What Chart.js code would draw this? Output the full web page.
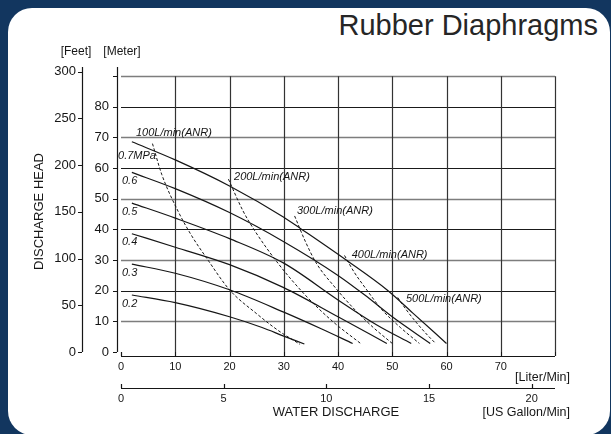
<!DOCTYPE html>
<html>
<head>
<meta charset="utf-8">
<script src="https://cdn.jsdelivr.net/npm/chart.js@4.4.1/dist/chart.umd.min.js"></script>
<style>
  html, body { margin: 0; padding: 0; }
  body { width: 611px; height: 434px; overflow: hidden; position: relative;
         background: #12365f; font-family: "Liberation Sans", Arial, sans-serif; }
  #panel { position: absolute; left: 8px; top: 8px; width: 602px; height: 427px;
           background: #fff; border-radius: 24px; }
  #titulo { position: absolute; right: 13px; top: 11px; font-size: 29px; line-height: 29px;
            color: #262626; white-space: nowrap; }
  #grafico { position: absolute; left: 0; top: 0; }
</style>
</head>
<body>
<div id="panel"></div>
<div id="titulo">Rubber Diaphragms</div>
<canvas id="grafico" width="611" height="434"></canvas>
<script>
// Ticks de los ejes
const flowTicks = [0, 10, 20, 30, 40, 50, 60, 70, 80];
const flowTickLabels = ['0', '10', '20', '30', '40', '50', '60', '70', ''];
const gallonTicks = [0, 5, 10, 15, 20];
const meterTicks = [0, 10, 20, 30, 40, 50, 60, 70, 80, 90];
const meterTickLabels = ['0', '10', '20', '30', '40', '50', '60', '70', '80', ''];
const feetTicks = [0, 50, 100, 150, 200, 250, 300];
const gridFlow = [10, 20, 30, 40, 50, 60, 70, 80];
const gridHead = [10, 20, 30, 40, 50, 60, 70, 80, 90];

const LITROS_POR_GALON = 3.785;
const PIES_POR_METRO = 3.2808;

// Curvas de presion (L/min, m)
const p07Flow = [2, 10, 20, 30, 33, 41.5, 49, 53.8, 60];
const p07Head = [68.6, 62.7, 54.2, 44, 40.4, 30, 20.3, 12.7, 2.8];
const p06Flow = [2, 10, 20, 30, 40, 45, 50, 57];
const p06Head = [58.6, 53.3, 45.5, 36, 25, 18.5, 11.5, 2.8];
const p05Flow = [2, 10, 20, 30, 40, 47, 53.5];
const p05Head = [48.6, 43.7, 37, 29, 17, 9, 2.8];
const p04Flow = [2, 10, 20, 30, 40, 49];
const p04Head = [38.6, 34.2, 28.5, 21, 11.5, 2.8];
const p03Flow = [2, 10, 20, 30, 37, 42.7];
const p03Head = [28.7, 25.7, 20.3, 13, 7.5, 2.8];
const p02Flow = [2, 10, 20, 26, 30, 33.8];
const p02Head = [18.6, 16.1, 11.5, 8, 5.2, 2.6];

// Curvas de consumo de aire (L/min, m)
const a100Flow = [5.8, 7.5, 10.5, 13, 15.8, 20, 25, 29, 33];
const a100Head = [68, 58, 46, 38, 30.6, 20.3, 12.5, 7, 2.5];
const a200Flow = [19.8, 22.5, 24.5, 28.7, 34, 39, 44.3];
const a200Head = [56.4, 46, 40, 29.5, 18.5, 10, 2.6];
const a300Flow = [32, 34, 36, 39.5, 43, 46.5, 50];
const a300Head = [44.4, 36, 29, 21, 14, 8, 2.8];
const a400Flow = [41.2, 43, 45, 48, 51.5, 55];
const a400Head = [31.5, 26, 21, 14, 8, 2.8];
const a500Flow = [51, 52.5, 54.5, 56.5, 58];
const a500Head = [17.8, 14, 9.5, 5.5, 2.8];

const etiquetasPresion = ['0.7MPa', '0.6', '0.5', '0.4', '0.3', '0.2'];
const etiquetasAire = ['100L/min(ANR)', '200L/min(ANR)', '300L/min(ANR)', '400L/min(ANR)', '500L/min(ANR)'];
// donde va cada etiqueta (en unidades del grafico)
const posPresion = [[-0.55, 62.9], [0.18, 54.8], [0.18, 44.7], [0.18, 34.9], [0.18, 24.8], [0.18, 14.8]];
const posAire = [[2.76, 70.4], [20.83, 56.1], [32.44, 45.0], [42.53, 30.65], [52.53, 16.4]];

const FUENTE = '"Liberation Sans", Arial, sans-serif';
const TINTA = '#161616';

function curva(xs, ys, discontinua) {
    return {
        data: xs.map((v, i) => ({ x: v, y: ys[i] })),
        showLine: true,
        pointRadius: 0,
        borderColor: TINTA,
        borderWidth: discontinua ? 1 : 1.2,
        borderDash: discontinua ? [3, 2] : [],
        cubicInterpolationMode: 'monotone',
        fill: false,
        xAxisID: 'x',
        yAxisID: 'y'
    };
}

const fijarTicks = lista => scale => { scale.ticks = lista.map(v => ({ value: v })); };

// Rejilla, lineas de ejes y textos sueltos
const trazos = {
    id: 'trazos',
    beforeDatasetsDraw(chart) {
        const { ctx, scales: { x, y, xg, yf } } = chart;
        const px = v => x.getPixelForValue(v);
        const py = v => y.getPixelForValue(v);
        const r = v => Math.round(v) + 0.5;
        ctx.save();
        gridHead.forEach(v => {
            ctx.beginPath();
            ctx.strokeStyle = v % 20 ? '#7d7d7d' : '#1a1a1a';
            ctx.lineWidth = v % 20 ? 1.6 : 1;
            ctx.moveTo(px(0), r(py(v)));
            ctx.lineTo(px(80), r(py(v)));
            ctx.stroke();
        });
        ctx.strokeStyle = '#333';
        ctx.lineWidth = 1.2;
        gridFlow.forEach(v => {
            ctx.beginPath();
            ctx.moveTo(r(px(v)), py(90));
            ctx.lineTo(r(px(v)), py(0));
            ctx.stroke();
        });

        ctx.strokeStyle = TINTA;
        ctx.lineWidth = 1.2;
        // eje en metros
        ctx.beginPath();
        ctx.moveTo(r(y.right), py(0));
        ctx.lineTo(r(y.right), y.top);
        meterTicks.forEach(v => { ctx.moveTo(y.right - 4, r(py(v))); ctx.lineTo(y.right, r(py(v))); });
        ctx.stroke();
        // eje en pies
        ctx.beginPath();
        ctx.moveTo(r(yf.right), yf.getPixelForValue(0));
        ctx.lineTo(r(yf.right), yf.top);
        feetTicks.forEach(v => {
            const p = r(yf.getPixelForValue(v));
            ctx.moveTo(yf.right - 4, p); ctx.lineTo(yf.right, p);
        });
        ctx.stroke();
        // eje L/min
        ctx.beginPath();
        ctx.moveTo(px(0), r(x.top));
        ctx.lineTo(px(80), r(x.top));
        flowTicks.forEach(v => { ctx.moveTo(r(px(v)), x.top); ctx.lineTo(r(px(v)), x.top - 4); });
        ctx.stroke();
        // eje galones
        ctx.beginPath();
        ctx.moveTo(xg.getPixelForValue(0), r(xg.top));
        ctx.lineTo(px(80), r(xg.top));
        gallonTicks.forEach(v => {
            const p = r(xg.getPixelForValue(v));
            ctx.moveTo(p, xg.top); ctx.lineTo(p, xg.top - 4);
        });
        ctx.stroke();
        ctx.restore();
    },
    afterDatasetsDraw(chart) {
        const { ctx, scales: { x, y, xg, yf } } = chart;
        ctx.save();
        ctx.fillStyle = TINTA;
        ctx.font = 'italic 11px ' + FUENTE;
        ctx.textAlign = 'left';
        ctx.textBaseline = 'alphabetic';
        etiquetasPresion.forEach((t, i) => {
            ctx.fillText(t, x.getPixelForValue(posPresion[i][0]), y.getPixelForValue(posPresion[i][1]));
        });
        etiquetasAire.forEach((t, i) => {
            ctx.fillText(t, x.getPixelForValue(posAire[i][0]), y.getPixelForValue(posAire[i][1]));
        });

        ctx.font = '12px ' + FUENTE;
        ctx.textBaseline = 'middle';
        ctx.textAlign = 'center';
        ctx.fillText('[Feet]', yf.right - 6, yf.top - 15);
        ctx.fillText('[Meter]', y.right + 5, y.top - 15);
        ctx.font = '12.5px ' + FUENTE;
        ctx.textAlign = 'right';
        ctx.fillText('[Liter/Min]', x.right + 15, x.top + 22);
        ctx.fillText('[US Gallon/Min]', x.right + 15, xg.top + 25);
        ctx.restore();
    }
};

const tickFont = { family: FUENTE, size: 11 };
const headFont = { family: FUENTE, size: 13 };

new Chart(document.getElementById('grafico'), {
    type: 'scatter',
    data: {
        datasets: [
            curva(p07Flow, p07Head), curva(p06Flow, p06Head), curva(p05Flow, p05Head),
            curva(p04Flow, p04Head), curva(p03Flow, p03Head), curva(p02Flow, p02Head),
            curva(a100Flow, a100Head, true), curva(a200Flow, a200Head, true),
            curva(a300Flow, a300Head, true), curva(a400Flow, a400Head, true),
            curva(a500Flow, a500Head, true)
        ]
    },
    options: {
        responsive: false,
        animation: false,
        events: [],
        layout: { padding: { left: 30, right: 56, top: 67, bottom: 14 } },
        plugins: { legend: { display: false }, tooltip: { enabled: false } },
        scales: {
            x: {
                type: 'linear', position: 'bottom', weight: 0,
                min: -0.74, max: 80,
                afterBuildTicks: fijarTicks(flowTicks),
                afterFit: s => { s.height = 32; },
                grid: { display: false, drawTicks: false }, border: { display: false },
                ticks: { padding: 4, color: TINTA, font: tickFont, autoSkip: false, maxRotation: 0,
                         callback: (v, i) => flowTickLabels[i] }
            },
            xg: {
                type: 'linear', position: 'bottom', weight: 1,
                min: -0.74 / LITROS_POR_GALON, max: 80 / LITROS_POR_GALON,
                afterBuildTicks: fijarTicks(gallonTicks),
                afterFit: s => { s.height = 32; },
                grid: { display: false, drawTicks: false }, border: { display: false },
                ticks: { padding: 4, color: TINTA, font: tickFont, autoSkip: false, maxRotation: 0 },
                title: { display: true, text: 'WATER DISCHARGE', color: TINTA, font: headFont, padding: 0 }
            },
            y: {
                type: 'linear', position: 'left', weight: 0,
                min: -1.3, max: 93,
                afterBuildTicks: fijarTicks(meterTicks),
                afterFit: s => { s.width = 35; },
                grid: { display: false, drawTicks: false }, border: { display: false },
                ticks: { padding: 8, color: TINTA, font: headFont, autoSkip: false,
                         callback: (v, i) => meterTickLabels[i] }
            },
            yf: {
                type: 'linear', position: 'left', weight: 1,
                min: -1.3 * PIES_POR_METRO, max: 93 * PIES_POR_METRO,
                afterBuildTicks: fijarTicks(feetTicks),
                afterFit: s => { s.width = 52; },
                grid: { display: false, drawTicks: false }, border: { display: false },
                ticks: { padding: 6, color: TINTA, font: headFont, autoSkip: false },
                title: { display: true, text: 'DISCHARGE HEAD', color: TINTA, font: headFont,
                         padding: { top: 2, bottom: 0 } }
            }
        }
    },
    plugins: [trazos]
});
</script>
</body>
</html>
